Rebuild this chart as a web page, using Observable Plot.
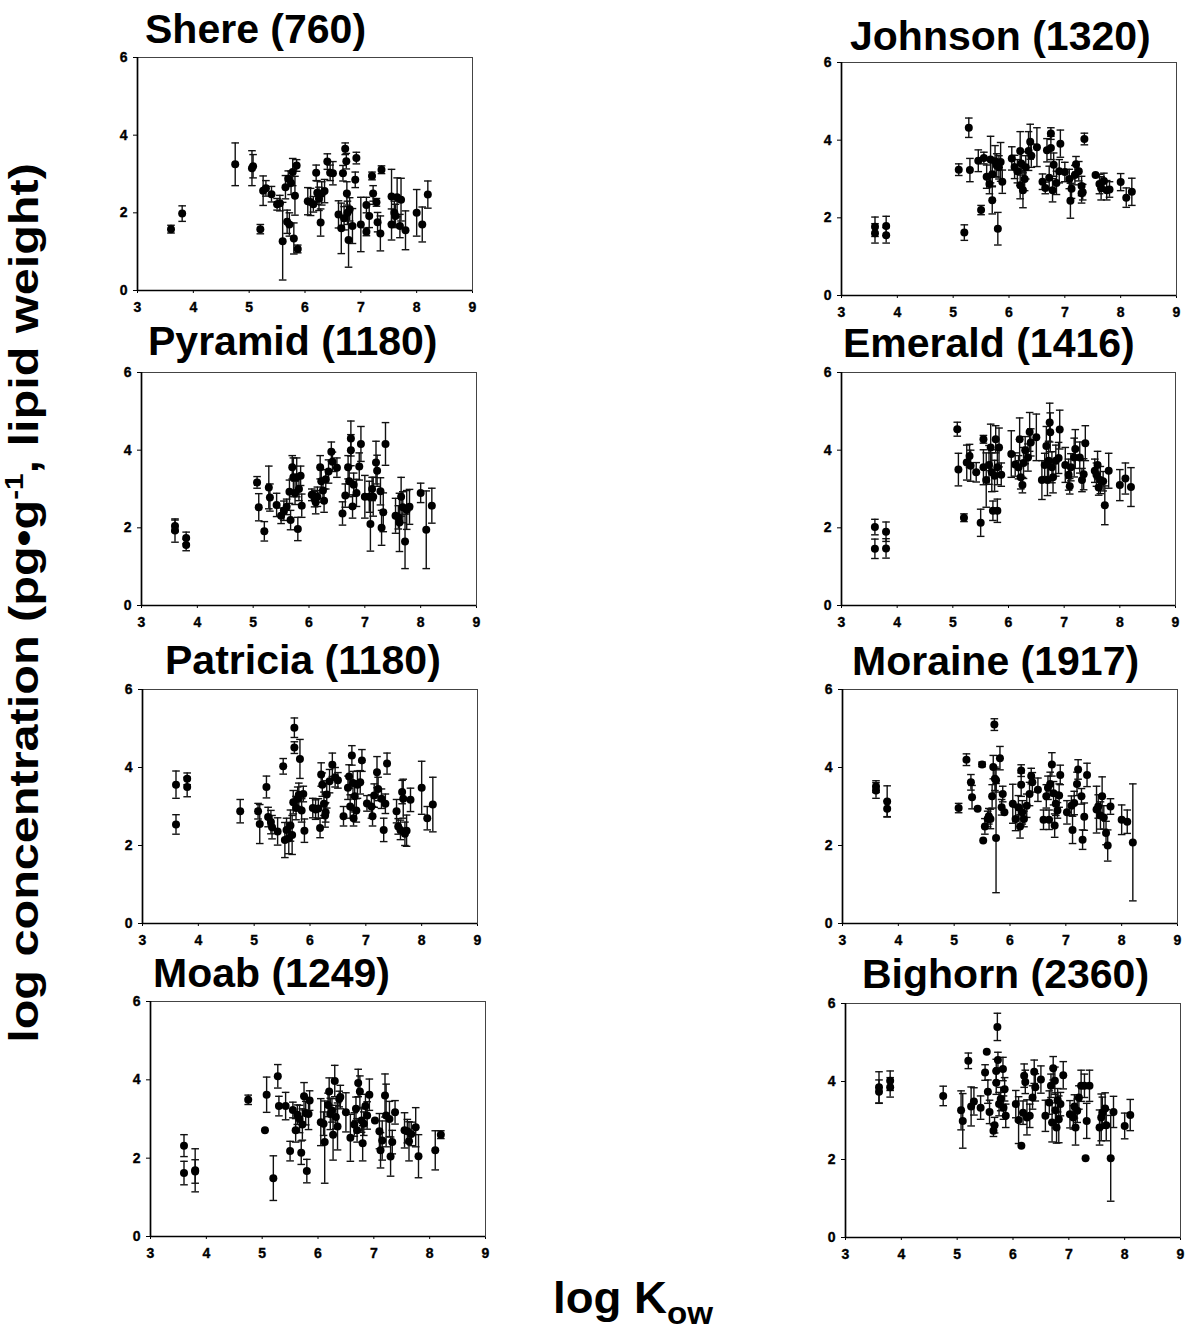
<!DOCTYPE html>
<html>
<head>
<meta charset="utf-8">
<script src="https://cdn.jsdelivr.net/npm/d3@7"></script>
<script src="https://cdn.jsdelivr.net/npm/@observablehq/plot@0.6"></script>
<style>
  body { margin: 0; background: #fff; }
  #fig { position: relative; width: 1185px; height: 1332px; overflow: hidden; background: #fff; }
  #fig .panel { position: absolute; }
  #fig svg.panel text { font-size: 14px !important; font-weight: bold !important; stroke: #000; stroke-width: 0.35px; }
  #labels { position: absolute; left: 0; top: 0; pointer-events: none; }
</style>
</head>
<body>
<div id="fig"></div>
<script>
// Axis ticks shared by all eight panels
const xTicks = [3, 4, 5, 6, 7, 8, 9];
const yTicks = [0, 2, 4, 6];

// Lakes and their elevations (m a.s.l.)
const lakes = ["Shere", "Johnson", "Pyramid", "Emerald", "Patricia", "Moraine", "Moab", "Bighorn"];
const elevations = [760, 1320, 1180, 1416, 1180, 1917, 1249, 2360];

// Each row: [log Kow, log concentration (pg/g lipid), ± error]
const shere = [
  [3.6,1.58,0.1],[3.8,1.98,0.2],[4.75,3.25,0.55],[5.05,3.15,0.45],[5.07,3.2,0.3],[5.2,1.58,0.12],
  [5.25,2.57,0.38],[5.3,2.63,0.2],[5.4,2.48,0.2],[5.5,2.22,0.15],[5.55,2.25,0.2],[5.6,1.27,1.0],
  [5.65,2.66,0.3],[5.68,1.77,0.3],[5.7,2.88,0.2],[5.72,1.7,0.3],[5.75,2.77,0.3],[5.78,3.05,0.35],
  [5.8,1.34,0.4],[5.82,2.44,0.5],[5.85,3.22,0.15],[5.87,1.07,0.1],[6.05,2.3,0.35],[6.1,2.28,0.35],
  [6.15,2.22,0.2],[6.2,3.03,0.2],[6.22,2.52,0.3],[6.25,2.36,0.3],[6.28,1.75,0.35],[6.3,2.5,0.3],
  [6.35,2.56,0.3],[6.4,3.32,0.2],[6.45,3.03,0.2],[6.5,3.02,0.3],[6.6,1.96,0.35],[6.65,1.6,0.65],
  [6.68,3.02,0.2],[6.7,1.86,0.3],[6.72,3.65,0.15],[6.74,3.33,0.2],[6.75,2.5,0.3],[6.76,2.0,0.3],
  [6.78,1.3,0.7],[6.8,2.09,0.3],[6.85,1.66,0.45],[6.9,2.85,0.2],[6.92,3.41,0.15],[7.0,1.7,0.7],
  [7.1,2.2,0.2],[7.1,1.51,0.1],[7.15,1.92,0.3],[7.2,2.95,0.1],[7.22,2.5,0.2],[7.28,2.27,0.1],
  [7.3,1.76,0.25],[7.35,1.47,0.45],[7.37,3.11,0.1],[7.55,1.7,0.4],[7.55,2.42,0.7],[7.6,2.0,0.3],
  [7.62,1.92,0.3],[7.65,2.4,0.5],[7.7,1.66,0.3],[7.72,2.34,0.55],[7.8,1.55,0.5],[8.0,2.0,0.6],
  [8.1,1.7,0.45],[8.2,2.47,0.35]
];
const johnson = [
  [3.6,1.77,0.25],[3.6,1.6,0.25],[3.8,1.79,0.25],[3.8,1.55,0.2],[5.1,3.24,0.15],[5.2,1.62,0.2],
  [5.28,4.32,0.25],[5.3,3.23,0.3],[5.45,3.47,0.28],[5.5,2.2,0.12],[5.55,3.54,0.15],[5.6,3.06,0.3],
  [5.65,2.87,0.25],[5.67,3.5,0.6],[5.7,2.45,0.35],[5.7,3.12,0.3],[5.75,3.46,0.4],[5.78,3.35,0.3],
  [5.8,1.72,0.42],[5.82,3.3,0.3],[5.85,3.44,0.5],[5.88,2.93,0.3],[6.05,3.53,0.3],[6.1,3.31,0.3],
  [6.15,3.2,0.3],[6.2,3.72,0.5],[6.2,2.84,0.35],[6.22,3.4,0.3],[6.25,2.71,0.45],[6.28,3.0,0.3],
  [6.3,3.3,0.3],[6.35,3.72,0.5],[6.38,3.96,0.45],[6.4,3.6,0.3],[6.5,3.82,0.5],[6.6,2.93,0.2],
  [6.65,2.77,0.15],[6.68,3.74,0.3],[6.72,3.03,0.3],[6.75,4.17,0.15],[6.75,3.8,0.3],[6.78,2.71,0.3],
  [6.8,3.37,0.3],[6.85,2.9,0.3],[6.9,3.2,0.3],[6.92,3.91,0.35],[7.0,3.18,0.25],[7.08,3.0,0.25],
  [7.1,2.44,0.45],[7.12,2.75,0.25],[7.18,3.1,0.25],[7.2,3.38,0.2],[7.25,3.2,0.25],[7.3,2.82,0.25],
  [7.3,2.63,0.25],[7.32,2.66,0.2],[7.35,4.03,0.15],[7.55,3.1,0.0],[7.62,2.87,0.25],[7.65,2.76,0.3],
  [7.7,2.95,0.2],[7.75,2.71,0.25],[7.8,2.73,0.2],[8.0,2.92,0.22],[8.1,2.52,0.25],[8.2,2.67,0.35]
];
const pyramid = [
  [3.6,2.05,0.15],[3.6,1.93,0.3],[3.8,1.74,0.15],[3.8,1.56,0.15],[5.07,3.17,0.15],[5.1,2.53,0.35],
  [5.2,1.91,0.25],[5.28,3.04,0.55],[5.3,2.78,0.35],[5.42,2.59,0.3],[5.5,2.31,0.2],[5.55,2.44,0.25],
  [5.6,2.54,0.2],[5.65,2.93,0.3],[5.67,2.2,0.25],[5.7,3.56,0.3],[5.72,3.3,0.5],[5.75,2.9,0.3],
  [5.78,3.3,0.5],[5.8,1.97,0.3],[5.82,3.0,0.3],[5.85,3.34,0.25],[5.87,2.57,0.3],[6.05,2.85,0.15],
  [6.1,2.74,0.2],[6.12,2.66,0.3],[6.15,2.8,0.25],[6.2,3.56,0.3],[6.22,3.2,0.3],[6.25,2.96,0.3],
  [6.27,2.7,0.3],[6.3,3.25,0.25],[6.35,3.45,0.3],[6.4,3.96,0.25],[6.42,3.7,0.25],[6.5,3.55,0.25],
  [6.6,2.37,0.3],[6.65,2.83,0.3],[6.7,3.56,0.3],[6.72,3.2,0.4],[6.75,4.3,0.45],[6.75,4.0,0.4],
  [6.78,2.55,0.3],[6.8,3.11,0.3],[6.85,2.9,0.35],[6.9,3.58,0.35],[6.93,4.16,0.45],[7.0,2.8,0.55],
  [7.08,2.8,0.4],[7.1,2.1,0.7],[7.13,3.0,0.3],[7.15,2.8,0.5],[7.2,3.68,0.55],[7.22,3.47,0.4],
  [7.28,2.94,0.35],[7.3,2.0,0.45],[7.33,2.4,0.5],[7.37,4.16,0.55],[7.55,2.31,0.45],[7.6,2.27,0.3],
  [7.62,2.14,0.75],[7.65,2.8,0.5],[7.68,2.53,0.4],[7.72,1.65,0.7],[7.75,2.46,0.5],[7.8,2.54,0.45],
  [8.0,2.9,0.25],[8.1,1.95,1.0],[8.2,2.57,0.45]
];
const emerald = [
  [3.6,2.02,0.2],[3.6,1.46,0.25],[3.8,1.9,0.25],[3.8,1.47,0.25],[5.08,4.54,0.18],[5.1,3.5,0.42],
  [5.2,2.26,0.1],[5.25,3.68,0.45],[5.3,3.85,0.3],[5.32,3.6,0.4],[5.42,3.43,0.25],[5.5,2.13,0.35],
  [5.55,4.28,0.1],[5.55,3.56,0.45],[5.6,3.23,0.7],[5.65,3.62,0.5],[5.68,4.07,0.6],[5.7,3.43,0.5],
  [5.72,2.44,0.25],[5.75,3.34,0.4],[5.77,4.28,0.35],[5.8,3.56,0.45],[5.8,2.44,0.3],[5.83,4.07,0.5],
  [5.87,3.37,0.3],[6.05,3.9,0.6],[6.12,3.63,0.3],[6.18,3.56,0.3],[6.2,4.28,0.55],[6.22,3.3,0.3],
  [6.25,3.1,0.2],[6.27,3.67,0.4],[6.3,4.0,0.35],[6.35,3.81,0.35],[6.38,4.47,0.5],[6.4,4.2,0.35],
  [6.5,4.33,0.6],[6.6,3.23,0.5],[6.65,3.62,0.3],[6.68,4.11,0.5],[6.7,3.23,0.4],[6.72,3.73,0.5],
  [6.74,4.71,0.5],[6.75,4.46,0.5],[6.78,3.56,0.4],[6.8,3.3,0.4],[6.85,3.73,0.4],[6.9,3.8,0.4],
  [6.92,4.53,0.5],[7.02,3.62,0.45],[7.08,3.37,0.4],[7.1,3.07,0.2],[7.12,3.56,0.35],[7.18,3.81,0.5],
  [7.2,4.03,0.5],[7.28,3.81,0.4],[7.32,3.23,0.3],[7.35,3.38,0.4],[7.38,4.18,0.45],[7.55,3.47,0.3],
  [7.58,3.37,0.3],[7.6,3.62,0.35],[7.62,3.04,0.2],[7.65,3.23,0.35],[7.7,3.2,0.25],[7.73,2.58,0.5],
  [7.8,3.47,0.45],[8.0,3.1,0.4],[8.1,3.27,0.4],[8.2,3.05,0.5]
];
const patricia = [
  [3.6,3.56,0.35],[3.6,2.54,0.25],[3.8,3.71,0.15],[3.8,3.5,0.25],[4.75,2.88,0.3],[5.07,2.88,0.2],
  [5.1,2.55,0.5],[5.22,3.5,0.28],[5.25,2.73,0.25],[5.3,2.6,0.3],[5.32,2.47,0.3],[5.42,2.36,0.35],
  [5.52,4.03,0.2],[5.55,2.14,0.45],[5.58,2.4,0.3],[5.62,2.19,0.4],[5.65,2.51,0.4],[5.68,2.27,0.5],
  [5.7,3.11,0.3],[5.72,5.02,0.25],[5.72,4.51,0.15],[5.75,2.96,0.3],[5.78,3.2,0.3],[5.8,3.3,0.3],
  [5.82,4.22,0.5],[5.85,2.9,0.3],[5.88,3.32,0.2],[5.9,2.38,0.3],[6.05,2.96,0.25],[6.1,2.92,0.25],
  [6.15,2.95,0.25],[6.18,2.45,0.25],[6.2,3.82,0.3],[6.22,3.56,0.3],[6.25,3.07,0.3],[6.27,2.77,0.3],
  [6.28,2.85,0.25],[6.3,3.31,0.35],[6.35,3.65,0.3],[6.4,4.07,0.3],[6.45,3.75,0.25],[6.5,3.67,0.2],
  [6.6,2.75,0.25],[6.68,3.48,0.3],[6.7,3.77,0.3],[6.72,3.0,0.3],[6.75,4.31,0.25],[6.77,3.6,0.3],
  [6.78,2.7,0.2],[6.8,3.26,0.4],[6.83,2.9,0.3],[6.85,3.56,0.35],[6.9,3.62,0.3],[6.93,4.18,0.28],
  [7.02,3.08,0.2],[7.1,3.0,0.3],[7.12,2.75,0.25],[7.15,3.28,0.3],[7.2,3.88,0.4],[7.22,3.45,0.3],
  [7.28,3.2,0.25],[7.32,2.4,0.3],[7.35,3.07,0.25],[7.38,4.1,0.27],[7.55,2.88,0.3],[7.58,2.49,0.2],
  [7.62,2.4,0.25],[7.65,3.37,0.3],[7.67,3.2,0.5],[7.7,2.3,0.3],[7.73,2.38,0.4],[7.8,3.17,0.3],
  [8.0,3.48,0.68],[8.1,2.7,0.3],[8.2,3.05,0.7]
];
const moraine = [
  [3.6,3.51,0.15],[3.6,3.41,0.2],[3.8,3.13,0.4],[3.8,2.94,0.2],[5.08,2.96,0.12],[5.22,4.2,0.15],
  [5.3,3.62,0.2],[5.32,3.24,0.3],[5.42,2.94,0.0],[5.5,4.08,0.06],[5.52,2.13,0.0],[5.55,2.49,0.2],
  [5.6,2.68,0.2],[5.62,2.75,0.2],[5.65,2.68,0.25],[5.68,3.26,0.3],[5.7,4.01,0.3],[5.72,5.1,0.15],
  [5.73,3.71,0.3],[5.75,3.67,0.3],[5.75,2.19,1.4],[5.82,4.24,0.3],[5.85,2.98,0.2],[5.87,3.32,0.2],
  [5.9,2.85,0.0],[6.05,3.07,0.5],[6.1,2.68,0.3],[6.15,2.98,0.3],[6.18,2.49,0.3],[6.2,3.92,0.15],
  [6.2,3.56,0.3],[6.22,2.85,0.3],[6.25,2.68,0.2],[6.3,3.02,0.3],[6.35,3.32,0.3],[6.38,3.78,0.2],
  [6.4,3.62,0.25],[6.5,3.43,0.3],[6.6,2.66,0.25],[6.65,3.26,0.3],[6.68,3.48,0.3],[6.7,2.66,0.25],
  [6.72,3.58,0.3],[6.75,4.08,0.3],[6.78,3.34,0.3],[6.8,2.51,0.3],[6.82,3.07,0.3],[6.85,2.9,0.2],
  [6.88,3.28,0.3],[6.9,3.81,0.25],[7.02,2.85,0.3],[7.1,3.02,0.25],[7.12,2.4,0.35],[7.15,3.09,0.3],
  [7.2,3.58,0.3],[7.22,3.95,0.25],[7.28,3.26,0.2],[7.3,2.15,0.25],[7.33,2.74,0.35],[7.38,3.81,0.3],
  [7.55,2.92,0.6],[7.58,3.0,0.3],[7.62,2.77,0.35],[7.65,3.26,0.5],[7.68,2.72,0.3],[7.72,2.32,0.3],
  [7.75,2.0,0.4],[7.8,3.0,0.2],[8.0,2.66,0.38],[8.1,2.61,0.3],[8.2,2.08,1.5]
];
const moab = [
  [3.6,2.32,0.28],[3.6,1.62,0.3],[3.8,1.69,0.55],[3.8,1.66,0.3],[4.75,3.49,0.12],[5.05,2.71,0.0],
  [5.08,3.62,0.45],[5.2,1.49,0.57],[5.28,4.09,0.3],[5.3,3.33,0.25],[5.42,3.33,0.35],[5.5,2.18,0.25],
  [5.55,3.23,0.2],[5.6,2.71,0.3],[5.63,3.11,0.25],[5.67,3.0,0.35],[5.7,2.14,0.3],[5.72,2.86,0.4],
  [5.75,3.58,0.35],[5.78,3.15,0.3],[5.8,1.67,0.3],[5.83,3.13,0.4],[5.85,3.47,0.25],[6.05,2.92,0.6],
  [6.1,2.88,0.3],[6.12,2.41,1.05],[6.18,3.36,0.3],[6.2,3.7,0.35],[6.22,3.13,0.4],[6.25,3.22,0.3],
  [6.27,2.6,0.65],[6.3,3.97,0.4],[6.32,3.05,0.3],[6.35,2.81,0.6],[6.38,3.51,0.2],[6.4,3.56,0.3],
  [6.5,3.17,0.5],[6.58,2.52,0.6],[6.65,2.86,0.3],[6.68,3.26,0.3],[6.7,2.71,0.3],[6.72,3.92,0.35],
  [6.75,3.7,0.4],[6.78,2.96,0.3],[6.8,2.38,0.45],[6.82,2.88,0.3],[6.85,3.33,0.3],[6.88,3.09,0.35],
  [6.92,3.62,0.4],[7.02,2.96,0.0],[7.1,2.69,0.45],[7.12,2.2,0.45],[7.15,2.45,0.5],[7.2,3.6,0.55],
  [7.22,3.09,0.8],[7.28,3.0,0.45],[7.3,2.04,0.5],[7.33,2.41,0.3],[7.38,3.17,0.3],[7.55,2.71,0.45],
  [7.6,2.69,0.3],[7.63,2.43,0.5],[7.67,2.62,0.3],[7.75,2.79,0.5],[7.8,2.05,0.55],[8.1,2.2,0.5],
  [8.2,2.6,0.1]
];
const bighorn = [
  [3.6,3.85,0.4],[3.6,3.74,0.3],[3.8,4.02,0.25],[3.8,3.85,0.25],[4.75,3.63,0.25],[5.07,3.26,0.5],
  [5.1,2.99,0.7],[5.2,4.53,0.2],[5.25,3.36,0.5],[5.3,3.49,0.35],[5.42,3.33,0.3],[5.5,4.23,0.2],
  [5.53,4.76,0.0],[5.55,3.74,0.3],[5.58,3.22,0.3],[5.65,2.74,0.15],[5.67,2.88,0.2],[5.7,4.27,0.3],
  [5.7,3.97,0.3],[5.72,5.4,0.35],[5.73,4.55,0.2],[5.75,3.42,0.3],[5.78,3.55,0.3],[5.82,4.32,0.3],
  [5.83,3.33,0.3],[5.85,3.8,0.3],[5.87,3.12,0.3],[6.05,3.42,0.35],[6.1,3.01,0.6],[6.15,2.35,0.0],
  [6.18,3.2,0.3],[6.2,4.15,0.3],[6.22,3.99,0.3],[6.25,3.08,0.45],[6.3,3.12,0.3],[6.35,3.59,0.3],
  [6.38,4.25,0.3],[6.4,3.85,0.35],[6.5,4.05,0.35],[6.58,3.12,0.4],[6.65,3.46,0.3],[6.68,3.89,0.3],
  [6.7,2.95,0.5],[6.72,4.34,0.3],[6.75,4.02,0.35],[6.76,3.26,0.45],[6.78,2.82,0.4],[6.8,3.52,0.3],
  [6.82,3.03,0.6],[6.85,3.42,0.3],[6.9,4.16,0.35],[7.02,3.16,0.35],[7.08,3.08,0.3],[7.1,3.36,0.3],
  [7.12,2.82,0.45],[7.15,3.25,0.3],[7.18,3.59,0.3],[7.22,3.89,0.4],[7.28,3.89,0.3],[7.3,2.03,0.0],
  [7.32,2.99,0.45],[7.37,3.89,0.4],[7.55,2.82,0.45],[7.58,3.08,0.6],[7.6,3.2,0.4],[7.65,3.31,0.4],
  [7.67,2.88,0.4],[7.75,2.03,1.1],[7.8,3.22,0.4],[8.0,2.86,0.33],[8.1,3.14,0.4]
];
const series = [shere, johnson, pyramid, emerald, patricia, moraine, moab, bighorn];

// Page layout: plot-frame box [left, top, right, bottom] and title anchor [x, baseline]
const frames = [
  [137, 57, 472, 290], [841, 62, 1176, 295],
  [141, 372, 476, 605], [841, 372, 1175, 605],
  [142, 689, 477, 923], [842, 689, 1177, 923],
  [150, 1001, 485, 1236], [845, 1003, 1180, 1237]
];
const titleAnchors = [
  [145, 43], [850, 50], [148, 355], [843, 357],
  [165, 674], [852, 675], [153, 987], [862, 988]
];

const FONT = '"Liberation Sans", Arial, Helvetica, sans-serif';
const fig = document.getElementById("fig");

// horizontal cap drawn at each end of an error bar; half-width equals r
const capSymbol = {
  draw(context, size) {
    const w = Math.sqrt(size / Math.PI);
    context.moveTo(-w, 0);
    context.lineTo(w, 0);
  }
};

function drawPanel(data, frame) {
  const [L, T, R, B] = frame;
  const mL = 40, mT = 8, mR = 8, mB = 34;
  const bars = data.filter(d => d[2] > 0);
  const chart = Plot.plot({
    width: R - L + mL + mR,
    height: B - T + mT + mB,
    marginLeft: mL, marginTop: mT, marginRight: mR, marginBottom: mB,
    style: { fontFamily: FONT, color: "#000", background: "transparent", overflow: "visible" },
    x: { domain: [3, 9] },
    y: { domain: [0, 6] },
    marks: [
      Plot.axisX({ ticks: xTicks, tickSize: 3, tickPadding: 9, tickFormat: d3.format("d"), label: null,
                   fontSize: 14, fontWeight: "bold", fontFamily: FONT }),
      Plot.axisY({ ticks: yTicks, tickSize: 4, tickPadding: 6, tickFormat: d3.format("d"), label: null,
                   fontSize: 14, fontWeight: "bold", fontFamily: FONT }),
      Plot.frame({ stroke: "#444", strokeWidth: 1 }),
      Plot.ruleX([3], { stroke: "#000", strokeWidth: 1.7 }),
      Plot.ruleY([0], { stroke: "#000", strokeWidth: 1.7 }),
      Plot.ruleX(bars, { x: d => d[0], y1: d => d[1] - d[2], y2: d => d[1] + d[2], stroke: "#111", strokeWidth: 1.4 }),
      Plot.dot(bars, { x: d => d[0], y: d => d[1] - d[2], symbol: capSymbol, r: 3.8, fill: "none", stroke: "#111", strokeWidth: 1.4 }),
      Plot.dot(bars, { x: d => d[0], y: d => d[1] + d[2], symbol: capSymbol, r: 3.8, fill: "none", stroke: "#111", strokeWidth: 1.4 }),
      Plot.dot(data, { x: d => d[0], y: d => d[1], r: 4, fill: "#000", stroke: "none" })
    ]
  });
  chart.classList.add("panel");
  chart.style.left = (L - mL) + "px";
  chart.style.top = (T - mT) + "px";
  fig.appendChild(chart);
}

series.forEach((data, i) => drawPanel(data, frames[i]));

// Titles and shared axis labels
const svg = d3.select(fig).append("svg")
  .attr("id", "labels")
  .attr("width", 1185).attr("height", 1332)
  .style("font-family", FONT).style("font-weight", "bold");

lakes.forEach((name, i) => {
  svg.append("text")
    .attr("x", titleAnchors[i][0]).attr("y", titleAnchors[i][1])
    .attr("font-size", 41)
    .text(`${name} (${elevations[i]})`);
});

// factor that stretches a text element along its writing direction to a given length
function fitLength(sel, target) {
  return target / sel.node().getComputedTextLength();
}

const yLab = svg.append("g");
const yText = yLab.append("text").attr("font-size", 41).attr("text-anchor", "middle");
yText.append("tspan").text("log concentration (pg•g");
yText.append("tspan").attr("font-size", 25).attr("dy", -15).text("-1");
yText.append("tspan").attr("dy", 15).text(", lipid weight)");
const ky = fitLength(yText, 880);
yLab.attr("transform", `translate(38,603) rotate(-90) scale(${ky},1)`);

const xLab = svg.append("g");
const xText = xLab.append("text").attr("font-size", 44);
xText.append("tspan").text("log K");
xText.append("tspan").attr("font-size", 32).attr("dy", 11).text("ow");
const kx = fitLength(xText, 160);
xLab.attr("transform", `translate(553,1313) scale(${kx},1)`);
</script>
</body>
</html>
